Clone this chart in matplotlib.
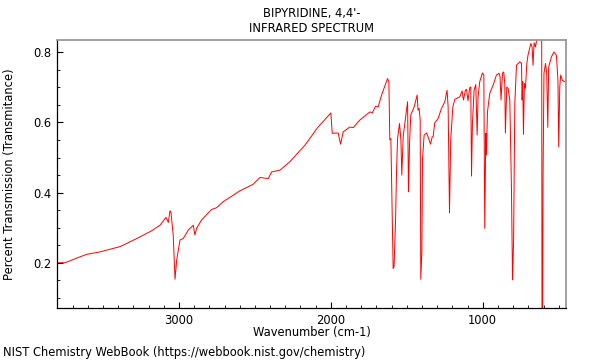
import matplotlib
matplotlib.use("Agg")
import matplotlib.pyplot as plt
from matplotlib.ticker import MultipleLocator

title_lines = ["BIPYRIDINE, 4,4'-", "INFRARED SPECTRUM"]
x_label = "Wavenumber (cm-1)"
y_label = "Percent Transmission (Transmitance)"
footer = "NIST Chemistry WebBook (https://webbook.nist.gov/chemistry)"

wavenumber = [
    3800, 3750, 3651, 3607, 3520, 3388, 3278, 3180, 3125, 3086, 3070, 3059, 3053,
    3038, 3026, 3015, 2993, 2972, 2939, 2906, 2895, 2884, 2851, 2785, 2752, 2709,
    2599, 2511, 2467, 2412, 2390, 2335, 2270, 2171, 2084, 2000, 1991, 1952, 1936,
    1919, 1875, 1853, 1809, 1743, 1728, 1706, 1689, 1666, 1627, 1618, 1612, 1605,
    1590, 1584, 1574, 1568, 1561, 1548, 1539, 1533, 1524, 1513, 1495, 1489, 1482,
    1474, 1452, 1432, 1426, 1419, 1412, 1408, 1401, 1397, 1386, 1370, 1360, 1344,
    1333, 1327, 1316, 1294, 1272, 1250, 1235, 1228, 1219, 1211, 1197, 1184, 1151,
    1136, 1127, 1114, 1107, 1097, 1086, 1079, 1074, 1068, 1057, 1046, 1037, 1031,
    1020, 1002, 993, 987, 980, 976, 969, 954, 932, 910, 893, 886, 880, 870, 862,
    855, 851, 842, 833, 822, 811, 804, 797, 789, 778, 756, 745, 741, 737, 732, 726,
    719, 710, 702, 684, 675, 669, 662, 653, 643, 618, 612, 610, 606, 603, 597, 587,
    579, 572, 566, 548, 531, 515, 505, 500, 493, 487, 476, 460, 450,
]
transmittance = [
    0.200, 0.200, 0.217, 0.224, 0.231, 0.246, 0.269, 0.291, 0.307, 0.329, 0.315, 0.348, 0.345,
    0.279, 0.153, 0.208, 0.265, 0.269, 0.293, 0.307, 0.279, 0.298, 0.322, 0.352, 0.357, 0.374,
    0.405, 0.424, 0.443, 0.440, 0.459, 0.464, 0.488, 0.535, 0.587, 0.627, 0.569, 0.570, 0.538,
    0.573, 0.587, 0.585, 0.607, 0.630, 0.627, 0.646, 0.644, 0.678, 0.725, 0.716, 0.550, 0.554,
    0.184, 0.189, 0.322, 0.455, 0.554, 0.597, 0.550, 0.450, 0.559, 0.597, 0.659, 0.402, 0.540,
    0.621, 0.644, 0.678, 0.635, 0.640, 0.607, 0.153, 0.228, 0.493, 0.564, 0.570, 0.559, 0.538,
    0.559, 0.559, 0.599, 0.611, 0.640, 0.659, 0.692, 0.644, 0.342, 0.550, 0.644, 0.666, 0.673,
    0.690, 0.664, 0.692, 0.694, 0.662, 0.699, 0.701, 0.447, 0.597, 0.692, 0.708, 0.564, 0.673,
    0.716, 0.741, 0.735, 0.298, 0.569, 0.507, 0.630, 0.683, 0.706, 0.735, 0.740, 0.730, 0.664, 0.740, 0.744,
    0.711, 0.570, 0.701, 0.697, 0.664, 0.407, 0.151, 0.265, 0.654, 0.763, 0.773, 0.768, 0.664, 0.716, 0.566, 0.711,
    0.697, 0.768, 0.792, 0.825, 0.815, 0.763, 0.827, 0.815, 0.840, 0.840, 0.840, 0.050, 0.050, 0.455, 0.740, 0.768,
    0.740, 0.586, 0.758, 0.787, 0.801, 0.791, 0.720, 0.530, 0.701, 0.735, 0.720, 0.716, 0.716,
]

x_ticks = [3000, 2000, 1000]
y_ticks = [0.2, 0.4, 0.6, 0.8]
fs = 8.3

fig = plt.figure(figsize=(6, 3.6), dpi=100)
ax = fig.add_axes([57 / 600, 1 - 308 / 360, (566 - 57) / 600, (308 - 40) / 360])
ax.plot(wavenumber, transmittance, color="#ff0000", lw=0.7)
ax.set_xlim(3803, 452)
ax.set_ylim(0.071, 0.835)

ax.set_xticks(x_ticks)
ax.set_xticklabels([str(t) for t in x_ticks])
ax.set_yticks(y_ticks)
ax.set_yticklabels([f"{t:.1f}" for t in y_ticks])
ax.xaxis.set_minor_locator(MultipleLocator(100))
ax.yaxis.set_minor_locator(MultipleLocator(0.05))
ax.tick_params(which="major", direction="in", length=4, width=0.8, labelsize=fs, pad=4)
ax.tick_params(which="minor", direction="in", length=2.2, width=0.6)
ax.tick_params(top=False, right=False, which="both")

for s in ("top", "right"):
    ax.spines[s].set_color("#999999")
    ax.spines[s].set_linewidth(1.3)
for s in ("left", "bottom"):
    ax.spines[s].set_color("black")
    ax.spines[s].set_linewidth(0.9)

ax.set_xlabel(x_label, fontsize=fs)
ax.xaxis.set_label_coords(0.5, -(326 - 308) / 268)
ax.xaxis.label.set_va("top")
ax.set_ylabel(y_label, fontsize=fs)
ax.yaxis.set_label_coords((16 - 57) / 509, 0.5)

fig.text(311.5 / 600, 1 - 13 / 360, title_lines[0], ha="center", va="center", fontsize=fs)
fig.text(311.5 / 600, 1 - 29 / 360, title_lines[1], ha="center", va="center", fontsize=fs)
fig.text(3 / 600, 1 - 352.5 / 360, footer, ha="left", va="center", fontsize=fs)

fig.savefig("out.png", dpi=100)
